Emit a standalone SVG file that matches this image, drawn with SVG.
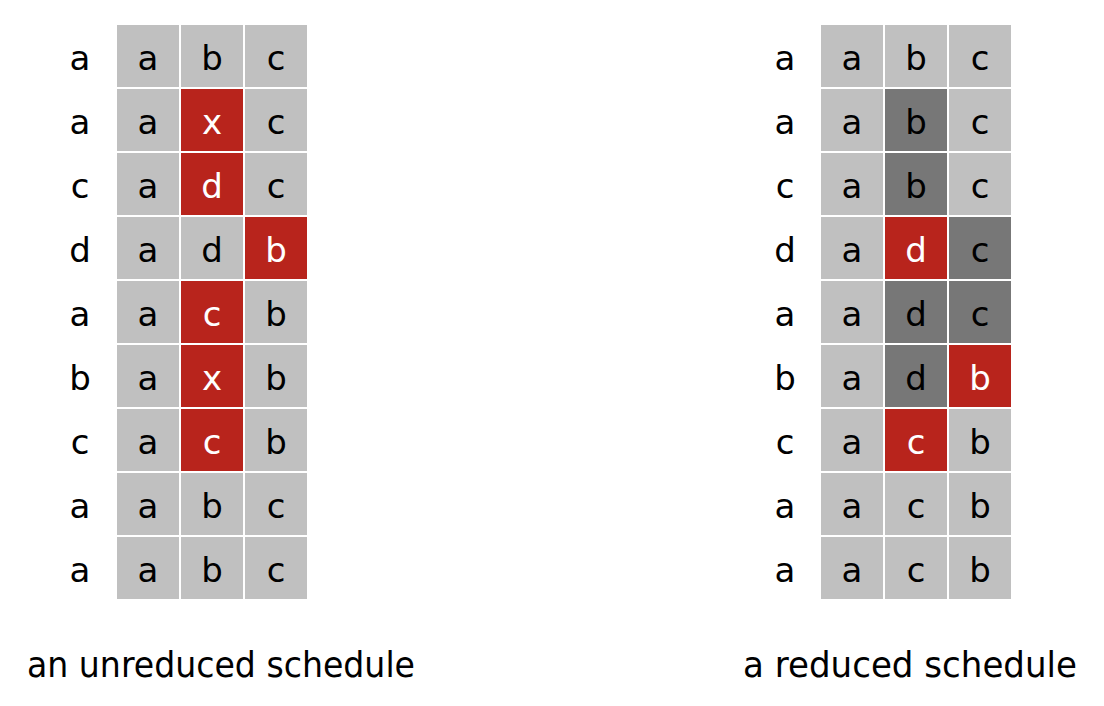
<svg xmlns="http://www.w3.org/2000/svg" width="1104" height="706" viewBox="0 0 1104 706">
<style>
.g{fill:#c0c0c0}
.r{fill:#b8241c}
.k{fill:#777777}
text{font-family:"DejaVu Sans","Liberation Sans",sans-serif;font-size:34px;text-anchor:middle;fill:#000}
.w{fill:#fff}
.cap{font-size:36px;text-anchor:start}
</style>
<rect width="1104" height="706" fill="#fff"/>
<g id="left-schedule">
<g id="L-labels">
<text x="80" y="70">a</text><text x="80" y="134">a</text><text x="80" y="198">c</text><text x="80" y="262">d</text><text x="80" y="326">a</text><text x="80" y="390">b</text><text x="80" y="454">c</text><text x="80" y="518">a</text><text x="80" y="582">a</text>
</g>
<g id="L-r0"><rect class="g" x="117" y="25" width="62" height="62"/><text x="148" y="70">a</text><rect class="g" x="181" y="25" width="62" height="62"/><text x="212" y="70">b</text><rect class="g" x="245" y="25" width="62" height="62"/><text x="276" y="70">c</text></g>
<g id="L-r1"><rect class="g" x="117" y="89" width="62" height="62"/><text x="148" y="134">a</text><rect class="r" x="181" y="89" width="62" height="62"/><text class="w" x="212" y="134">x</text><rect class="g" x="245" y="89" width="62" height="62"/><text x="276" y="134">c</text></g>
<g id="L-r2"><rect class="g" x="117" y="153" width="62" height="62"/><text x="148" y="198">a</text><rect class="r" x="181" y="153" width="62" height="62"/><text class="w" x="212" y="198">d</text><rect class="g" x="245" y="153" width="62" height="62"/><text x="276" y="198">c</text></g>
<g id="L-r3"><rect class="g" x="117" y="217" width="62" height="62"/><text x="148" y="262">a</text><rect class="g" x="181" y="217" width="62" height="62"/><text x="212" y="262">d</text><rect class="r" x="245" y="217" width="62" height="62"/><text class="w" x="276" y="262">b</text></g>
<g id="L-r4"><rect class="g" x="117" y="281" width="62" height="62"/><text x="148" y="326">a</text><rect class="r" x="181" y="281" width="62" height="62"/><text class="w" x="212" y="326">c</text><rect class="g" x="245" y="281" width="62" height="62"/><text x="276" y="326">b</text></g>
<g id="L-r5"><rect class="g" x="117" y="345" width="62" height="62"/><text x="148" y="390">a</text><rect class="r" x="181" y="345" width="62" height="62"/><text class="w" x="212" y="390">x</text><rect class="g" x="245" y="345" width="62" height="62"/><text x="276" y="390">b</text></g>
<g id="L-r6"><rect class="g" x="117" y="409" width="62" height="62"/><text x="148" y="454">a</text><rect class="r" x="181" y="409" width="62" height="62"/><text class="w" x="212" y="454">c</text><rect class="g" x="245" y="409" width="62" height="62"/><text x="276" y="454">b</text></g>
<g id="L-r7"><rect class="g" x="117" y="473" width="62" height="62"/><text x="148" y="518">a</text><rect class="g" x="181" y="473" width="62" height="62"/><text x="212" y="518">b</text><rect class="g" x="245" y="473" width="62" height="62"/><text x="276" y="518">c</text></g>
<g id="L-r8"><rect class="g" x="117" y="537" width="62" height="62"/><text x="148" y="582">a</text><rect class="g" x="181" y="537" width="62" height="62"/><text x="212" y="582">b</text><rect class="g" x="245" y="537" width="62" height="62"/><text x="276" y="582">c</text></g>
<text id="L-caption" class="cap" x="27" y="677" textLength="388" lengthAdjust="spacingAndGlyphs">an unreduced schedule</text>
</g>
<g id="right-schedule">
<g id="R-labels">
<text x="785" y="70">a</text><text x="785" y="134">a</text><text x="785" y="198">c</text><text x="785" y="262">d</text><text x="785" y="326">a</text><text x="785" y="390">b</text><text x="785" y="454">c</text><text x="785" y="518">a</text><text x="785" y="582">a</text>
</g>
<g id="R-r0"><rect class="g" x="821" y="25" width="62" height="62"/><text x="852" y="70">a</text><rect class="g" x="885" y="25" width="62" height="62"/><text x="916" y="70">b</text><rect class="g" x="949" y="25" width="62" height="62"/><text x="980" y="70">c</text></g>
<g id="R-r1"><rect class="g" x="821" y="89" width="62" height="62"/><text x="852" y="134">a</text><rect class="k" x="885" y="89" width="62" height="62"/><text x="916" y="134">b</text><rect class="g" x="949" y="89" width="62" height="62"/><text x="980" y="134">c</text></g>
<g id="R-r2"><rect class="g" x="821" y="153" width="62" height="62"/><text x="852" y="198">a</text><rect class="k" x="885" y="153" width="62" height="62"/><text x="916" y="198">b</text><rect class="g" x="949" y="153" width="62" height="62"/><text x="980" y="198">c</text></g>
<g id="R-r3"><rect class="g" x="821" y="217" width="62" height="62"/><text x="852" y="262">a</text><rect class="r" x="885" y="217" width="62" height="62"/><text class="w" x="916" y="262">d</text><rect class="k" x="949" y="217" width="62" height="62"/><text x="980" y="262">c</text></g>
<g id="R-r4"><rect class="g" x="821" y="281" width="62" height="62"/><text x="852" y="326">a</text><rect class="k" x="885" y="281" width="62" height="62"/><text x="916" y="326">d</text><rect class="k" x="949" y="281" width="62" height="62"/><text x="980" y="326">c</text></g>
<g id="R-r5"><rect class="g" x="821" y="345" width="62" height="62"/><text x="852" y="390">a</text><rect class="k" x="885" y="345" width="62" height="62"/><text x="916" y="390">d</text><rect class="r" x="949" y="345" width="62" height="62"/><text class="w" x="980" y="390">b</text></g>
<g id="R-r6"><rect class="g" x="821" y="409" width="62" height="62"/><text x="852" y="454">a</text><rect class="r" x="885" y="409" width="62" height="62"/><text class="w" x="916" y="454">c</text><rect class="g" x="949" y="409" width="62" height="62"/><text x="980" y="454">b</text></g>
<g id="R-r7"><rect class="g" x="821" y="473" width="62" height="62"/><text x="852" y="518">a</text><rect class="g" x="885" y="473" width="62" height="62"/><text x="916" y="518">c</text><rect class="g" x="949" y="473" width="62" height="62"/><text x="980" y="518">b</text></g>
<g id="R-r8"><rect class="g" x="821" y="537" width="62" height="62"/><text x="852" y="582">a</text><rect class="g" x="885" y="537" width="62" height="62"/><text x="916" y="582">c</text><rect class="g" x="949" y="537" width="62" height="62"/><text x="980" y="582">b</text></g>
<text id="R-caption" class="cap" x="743" y="677" textLength="334" lengthAdjust="spacingAndGlyphs">a reduced schedule</text>
</g>
<g id="connectors"/>
</svg>
